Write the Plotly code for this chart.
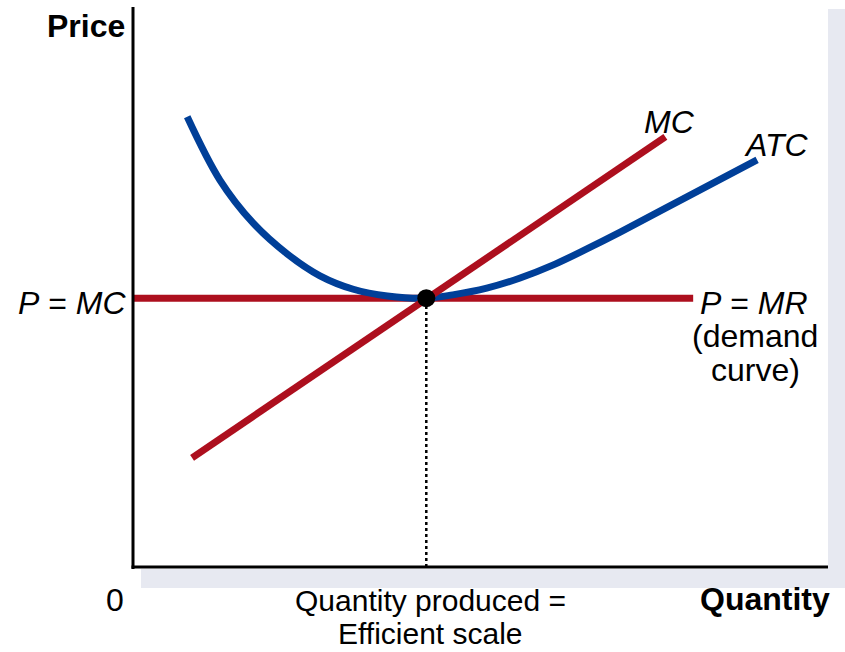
import plotly.graph_objects as go

# ---- data (axis units: quantity 0-10, price 0-10) ----
atc_q = [0.78, 1.25, 1.73, 2.22, 2.69, 3.17, 3.66, 4.22, 4.60, 5.09, 5.57, 6.04, 6.53, 7.01, 7.97, 8.98]
atc_p = [8.04, 6.91, 6.14, 5.59, 5.20, 4.96, 4.84, 4.80, 4.86, 4.98, 5.16, 5.39, 5.68, 5.98, 6.61, 7.27]
mc_q = [0.85, 4.22, 7.66]
mc_p = [1.95, 4.80, 7.68]
demand_q = [0.0, 8.06]
demand_p = [4.80, 4.80]
eff_q = 4.22
eff_p = 4.80

RED = "#AD0F1E"
BLUE = "#003F98"
FONT = "Liberation Sans, Arial, sans-serif"

L, R, T, B = 133, 17, 7, 85
W, H = 845, 652
PW, PH = W - L - R, H - T - B


def px(x):
    return (x - L) / PW


def py(y):
    return (H - B - y) / PH


fig = go.Figure()

fig.add_trace(go.Scatter(x=demand_q, y=demand_p, mode="lines",
                         line=dict(color=RED, width=7), hoverinfo="skip"))
fig.add_trace(go.Scatter(x=atc_q, y=atc_p, mode="lines",
                         line=dict(color=BLUE, width=7, shape="spline", smoothing=1.0),
                         hoverinfo="skip"))
fig.add_trace(go.Scatter(x=mc_q, y=mc_p, mode="lines",
                         line=dict(color=RED, width=7), hoverinfo="skip"))
fig.add_trace(go.Scatter(x=[eff_q, eff_q], y=[0, eff_p], mode="lines",
                         line=dict(color="black", width=2.5, dash="dot"), hoverinfo="skip"))
fig.add_trace(go.Scatter(x=[eff_q], y=[eff_p], mode="markers",
                         marker=dict(color="black", size=18), hoverinfo="skip"))

shapes = [
    # shadow bands
    dict(type="rect", xref="paper", yref="paper", x0=px(828), x1=px(846), y0=py(588), y1=py(9),
         fillcolor="#E7E9F1", line=dict(width=0), layer="below"),
    dict(type="rect", xref="paper", yref="paper", x0=px(141), x1=px(828), y0=py(588), y1=py(569),
         fillcolor="#E7E9F1", line=dict(width=0), layer="below"),
    # axes
    dict(type="line", xref="paper", yref="paper", x0=0, x1=0, y0=py(569), y1=1,
         line=dict(color="black", width=3)),
    dict(type="line", xref="paper", yref="paper", x0=px(131.5), x1=1, y0=0, y1=0,
         line=dict(color="black", width=3)),
]


def ann(text, x, y, xanchor="center", bold=False, size=32):
    t = f"<b>{text}</b>" if bold else text
    return dict(text=t, x=px(x), y=py(y), xref="paper", yref="paper", showarrow=False,
                xanchor=xanchor, yanchor="middle", borderpad=0,
                font=dict(family=FONT, size=size, color="black"))


annotations = [
    ann("Price", 126, 26, xanchor="right", bold=True),
    ann("<i>P</i> = <i>MC</i>", 127, 303, xanchor="right"),
    ann("0", 115, 600),
    ann("Quantity produced =", 430, 600, size=30),
    ann("Efficient scale", 430, 633, size=30),
    ann("Quantity", 831, 599, xanchor="right", bold=True),
    ann("<i>MC</i>", 669, 122),
    ann("<i>ATC</i>", 776, 145),
    ann("<i>P</i> = <i>MR</i>", 754, 303),
    ann("(demand", 755, 336),
    ann("curve)", 755, 370),
]

fig.update_layout(
    width=W, height=H, autosize=False,
    margin=dict(l=L, r=R, t=T, b=B),
    paper_bgcolor="white", plot_bgcolor="white",
    showlegend=False,
    xaxis=dict(range=[0, 10], visible=False, fixedrange=True),
    yaxis=dict(range=[0, 10], visible=False, fixedrange=True),
    shapes=shapes,
    annotations=annotations,
)

fig.write_html("out.html", config={"displayModeBar": False},
               post_script="document.body.style.margin='0px';document.body.style.overflow='hidden';")
